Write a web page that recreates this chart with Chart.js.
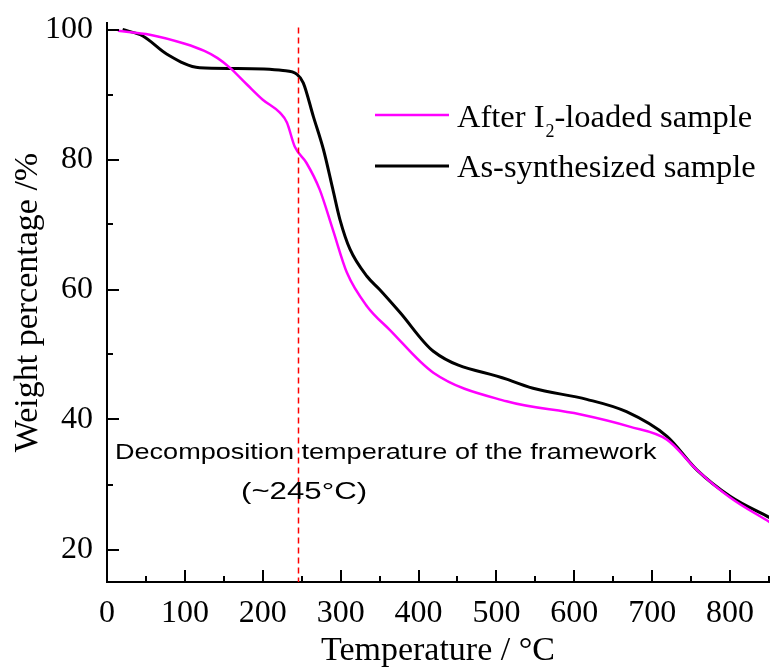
<!DOCTYPE html>
<html>
<head>
<meta charset="utf-8">
<script src="https://cdn.jsdelivr.net/npm/chart.js@4.4.1/dist/chart.umd.min.js"></script>
<style>
  html, body { margin: 0; padding: 0; background: #fff; }
  #wrap { width: 772px; height: 668px; }
</style>
</head>
<body>
<div id="wrap"><canvas id="tga"></canvas></div>
<script>
// TGA curves: weight % vs temperature (°C)
const tempI2 = [14, 55, 100, 125, 142, 158, 180, 200, 222, 231, 241, 256, 273, 290, 308, 334, 363, 419, 513, 607, 671, 719, 757, 800, 851];
const weightI2 = [99.8, 99.2, 97.8, 96.7, 95.6, 94.1, 91.5, 89.2, 87.2, 85.7, 82.0, 79.5, 75.4, 69.2, 62.6, 57.4, 53.8, 47.2, 42.8, 40.8, 38.9, 36.9, 32.3, 28.0, 24.2];

const tempAs = [20, 46, 77, 119, 162, 226, 244, 252, 265, 278, 290, 299, 312, 334, 350, 376, 419, 513, 547, 616, 667, 719, 757, 800, 851];
const weightAs = [100, 99.0, 96.2, 94.1, 94.0, 93.7, 93.1, 91.8, 86.6, 81.5, 75.4, 70.8, 66.2, 62.0, 60.0, 56.5, 50.5, 46.2, 44.8, 43.1, 41.2, 37.4, 32.3, 28.2, 24.9];

const xTicks = [0, 100, 200, 300, 400, 500, 600, 700, 800];
const xMinor = [50, 150, 250, 350, 450, 550, 650, 750, 850];
const yTicks = [20, 40, 60, 80, 100];
const yMinor = [30, 50, 70, 90];

const decompT = 245;

const toPts = (xs, ys) => xs.map((t, i) => ({ x: t, y: ys[i] }));

// inward tick marks, dashed marker, notes and the legend (with subscript)
const extras = {
  id: 'extras',
  afterDraw(chart) {
    const { ctx, chartArea: a, scales: { x, y } } = chart;
    ctx.save();

    // ticks pointing inside
    ctx.strokeStyle = '#000';
    ctx.lineWidth = 2;
    const tick = (x1, y1, x2, y2) => { ctx.beginPath(); ctx.moveTo(x1, y1); ctx.lineTo(x2, y2); ctx.stroke(); };
    xTicks.forEach(v => { const p = Math.round(x.getPixelForValue(v)); tick(p, a.bottom, p, a.bottom - 12); });
    xMinor.forEach(v => { const p = Math.round(x.getPixelForValue(v)); tick(p, a.bottom, p, a.bottom - 6); });
    yTicks.forEach(v => { const p = Math.round(y.getPixelForValue(v)); tick(a.left, p, a.left + 12, p); });
    yMinor.forEach(v => { const p = Math.round(y.getPixelForValue(v)); tick(a.left, p, a.left + 6, p); });

    // decomposition line
    const dx = Math.round(x.getPixelForValue(decompT)) + 0.5;
    ctx.strokeStyle = '#ff0000';
    ctx.lineWidth = 1.5;
    ctx.setLineDash([6, 4]);
    tick(dx, y.getPixelForValue(100.3), dx, a.bottom);
    ctx.setLineDash([]);

    // notes
    ctx.fillStyle = '#000';
    ctx.textBaseline = 'middle';
    ctx.save();
    ctx.font = '22px "Liberation Sans", Arial, sans-serif';
    ctx.translate(a.left + 8, y.getPixelForValue(34.9));
    ctx.scale(1.23, 1);
    ctx.textAlign = 'left';
    ctx.fillText('Decomposition temperature of the framework', 0, 0);
    ctx.restore();

    ctx.save();
    ctx.font = '24px "Liberation Sans", Arial, sans-serif';
    ctx.translate(x.getPixelForValue(253), y.getPixelForValue(28.8));
    ctx.scale(1.3, 1);
    ctx.textAlign = 'center';
    ctx.fillText('(~245°C)', 0, 0);
    ctx.restore();

    // legend
    const serif = '"Liberation Serif", "Times New Roman", serif';
    const lx1 = 375, lx2 = 449, tx = 457;
    ctx.lineWidth = 2.5;
    ctx.strokeStyle = '#ff00ff';
    tick(lx1, 115, lx2, 115);
    ctx.lineWidth = 3;
    ctx.strokeStyle = '#000';
    tick(lx1, 166, lx2, 166);

    ctx.textAlign = 'left';
    ctx.textBaseline = 'alphabetic';
    ctx.font = '32.5px ' + serif;
    let cx = tx;
    ctx.fillText('After I', cx, 127);
    cx += ctx.measureText('After I').width + 1;
    ctx.font = '18px ' + serif;
    ctx.fillText('2', cx, 137);
    cx += ctx.measureText('2').width;
    ctx.font = '32.5px ' + serif;
    ctx.fillText('-loaded sample', cx, 127);
    ctx.fillText('As-synthesized sample', tx, 177);

    ctx.restore();
  }
};

const tickFont = { family: '"Liberation Serif", "Times New Roman", serif', size: 32 };
const titleFont = { family: '"Liberation Serif", "Times New Roman", serif', size: 34, lineHeight: 1 };

new Chart(document.getElementById('tga'), {
  type: 'line',
  data: {
    datasets: [
      {
        label: 'After I2-loaded sample',
        data: toPts(tempI2, weightI2),
        borderColor: '#ff00ff',
        borderWidth: 2.5,
        pointRadius: 0,
        cubicInterpolationMode: 'monotone'
      },
      {
        label: 'As-synthesized sample',
        data: toPts(tempAs, weightAs),
        borderColor: '#000000',
        borderWidth: 3,
        pointRadius: 0,
        cubicInterpolationMode: 'monotone'
      }
    ]
  },
  options: {
    responsive: true,
    maintainAspectRatio: false,
    animation: false,
    layout: { padding: { top: 23, right: 3, left: 0, bottom: 0 } },
    plugins: { legend: { display: false }, tooltip: { enabled: false } },
    scales: {
      x: {
        type: 'linear',
        min: 0,
        max: 850,
        afterBuildTicks: (s) => { s.ticks = xTicks.map(v => ({ value: v })); },
        afterFit: (s) => { s.height = 86; s.paddingLeft = 0; s.paddingRight = 0; },
        grid: { display: false, drawTicks: false },
        border: { display: true, color: '#000', width: 2 },
        ticks: { color: '#000', font: tickFont, padding: 12, maxRotation: 0 },
        title: { display: true, text: 'Temperature / °C', color: '#000', font: titleFont, padding: { top: 0, bottom: 0 } }
      },
      y: {
        min: 15,
        max: 101,
        afterBuildTicks: (s) => { s.ticks = yTicks.map(v => ({ value: v })); },
        afterFit: (s) => { s.width = 107; s.paddingTop = 0; s.paddingBottom = 0; },
        grid: { display: false, drawTicks: false },
        border: { display: true, color: '#000', width: 2 },
        ticks: { color: '#000', font: tickFont, padding: 14 },
        title: { display: true, text: 'Weight percentage /%', color: '#000', font: titleFont, padding: { top: 11, bottom: 0 } }
      }
    }
  },
  plugins: [extras]
});
</script>
</body>
</html>
